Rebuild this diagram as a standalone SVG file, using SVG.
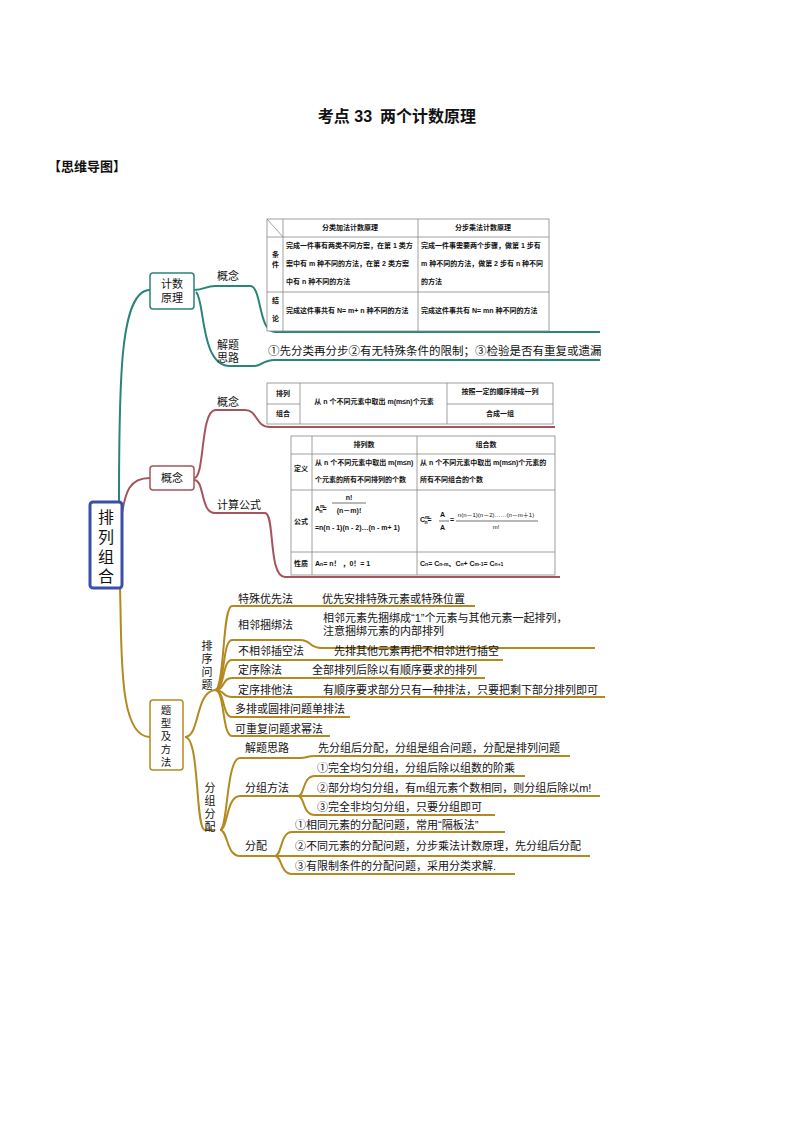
<svg xmlns="http://www.w3.org/2000/svg" width="794" height="1123" viewBox="0 0 794 1123">
<style>
text{font-family:"Liberation Sans","Noto Sans CJK SC",sans-serif;fill:#111}
.t{font-size:11px}
.s{font-size:7px;font-weight:bold}
.tb{fill:#fff;stroke:#888;stroke-width:0.8}
.g{stroke:#888;stroke-width:0.8;fill:none}
.teal{stroke:#2a8478;fill:none;stroke-width:2}
.red{stroke:#a5545b;fill:none;stroke-width:2}
.gold{stroke:#b38a1f;fill:none;stroke-width:2}
.m{text-anchor:middle}
</style>
<rect width="794" height="1123" fill="#fff"/>
<text x="397" y="122" class="m" style="font-size:16px;font-weight:bold">考点 33<tspan dx="8">两个计数原理</tspan></text>
<text x="48" y="171" style="font-size:13px;font-weight:bold">【思维导图】</text>

<g id="connectors">
<path class="teal" d="M119 502 C119 380 120 290 150 290"/>
<path class="teal" d="M194 290 C205 290 205 286 215 286 L250 286 C262 286 258 332 275 332 L600 332"/>
<path class="teal" d="M196 292 C205 300 200 366 230 366 L255 366 C262 366 262 360 275 360 L600 360"/>
<path class="red" d="M121 520 C125 490 130 478 150 478"/>
<path class="red" d="M194 478 C205 478 200 412 215 410 L245 410 C258 410 255 427 270 427 L555 427"/>
<path class="red" d="M194 480 C205 480 200 513 215 513 L265 513 C275 513 268 577 285 577 L560 577"/>
<path class="gold" d="M120 588 C122 650 118 737 150 737"/>
<path class="gold" d="M185 737 C200 737 195 692 215 690"/>
<path class="gold" d="M185 737 C200 737 195 830 205 830 L215 830"/>
<path class="gold" d="M215 690 C225 690 222 606 232 606 L475 606"/>
<path class="gold" d="M215 690 C225 690 222 640 232 640 L300 640 C312 640 308 648 322 648 L595 648"/>
<path class="gold" d="M215 690 C225 690 222 660 232 660 L503 660"/>
<path class="gold" d="M215 690 C225 690 222 678 232 678 L485 678"/>
<path class="gold" d="M215 690 C225 690 222 697 232 697 L605 697"/>
<path class="gold" d="M215 690 C225 690 222 717 232 717 L350 717"/>
<path class="gold" d="M215 690 C225 690 222 736 232 736 L330 736"/>
<path class="gold" d="M220 830 C228 830 226 758 240 758 L300 758 C308 758 306 756 315 756 L570 756"/>
<path class="gold" d="M220 830 C228 830 226 796 240 796 L300 796"/>
<path class="gold" d="M220 830 C228 830 226 856 240 856 L275 856"/>
<path class="gold" d="M298 796 C305 796 302 776 315 776 L525 776"/>
<path class="gold" d="M298 796 L600 796"/>
<path class="gold" d="M298 796 C305 796 302 815 315 815 L495 815"/>
<path class="gold" d="M275 856 C282 856 280 832 292 832 L505 832"/>
<path class="gold" d="M275 856 L590 856"/>
<path class="gold" d="M275 856 C282 856 280 874 292 874 L515 874"/>
</g>

<g id="root">
<rect x="90" y="502" width="32" height="86" rx="3" fill="#fff" stroke="#3a4fa8" stroke-width="3"/>
<text x="106" y="523" class="m" style="font-size:16px">排</text>
<text x="106" y="543" class="m" style="font-size:16px">列</text>
<text x="106" y="563" class="m" style="font-size:16px">组</text>
<text x="106" y="582" class="m" style="font-size:16px">合</text>
</g>

<g id="jishuyuanli">
<rect x="150" y="273" width="44" height="36" rx="3" fill="#fff" stroke="#2a8478" stroke-width="1.5"/>
<text x="172" y="288" class="m t">计数</text>
<text x="172" y="302" class="m t">原理</text>
</g>
<g id="gainian1"><text x="217" y="280" class="t">概念</text></g>
<g id="jieti1"><text x="217" y="349" class="t">解题</text><text x="217" y="362" class="t">思路</text>
<text x="268" y="355" style="font-size:11.5px">①先分类再分步②有无特殊条件的限制；③检验是否有重复或遗漏</text></g>
<g id="table1">
<rect x="267" y="219" width="282" height="112" class="tb"/>
<path class="g" d="M283 219V331M418 219V331M267 237H549M267 292H549M267 219L283 237"/>
<text x="350" y="230" class="s m">分类加法计数原理</text>
<text x="483" y="230" class="s m">分步乘法计数原理</text>
<text x="272" y="257" class="s">条</text><text x="272" y="267" class="s">件</text>
<text x="272" y="303" class="s">结</text><text x="272" y="321" class="s">论</text>
<text x="286" y="248" class="s">完成一件事有两类不同方案，在第 1 类方</text>
<text x="286" y="266" class="s">案中有 m 种不同的方法，在第 2 类方案</text>
<text x="286" y="284" class="s">中有 n 种不同的方法</text>
<text x="421" y="248" class="s">完成一件事需要两个步骤，做第 1 步有</text>
<text x="421" y="266" class="s">m 种不同的方法，做第 2 步有 n 种不同</text>
<text x="421" y="284" class="s">的方法</text>
<text x="286" y="313" class="s">完成这件事共有 N= m+ n 种不同的方法</text>
<text x="421" y="313" class="s">完成这件事共有 N= mn 种不同的方法</text>
</g>

<g id="gainian">
<rect x="150" y="466" width="44" height="24" rx="3" fill="#fff" stroke="#a5545b" stroke-width="1.5"/>
<text x="172" y="482" class="m t">概念</text>
</g>
<g id="gainian2"><text x="217" y="406" class="t">概念</text></g>
<g id="table2">
<rect x="267" y="383" width="286" height="41" class="tb"/>
<path class="g" d="M300 383V424M447 383V424M267 404H300M447 404H553"/>
<text x="283" y="396" class="s m">排列</text>
<text x="283" y="416" class="s m">组合</text>
<text x="374" y="404" class="s m">从 n 个不同元素中取出 m(m≤n)个元素</text>
<text x="500" y="394" class="s m">按照一定的顺序排成一列</text>
<text x="500" y="416" class="s m">合成一组</text>
</g>
<g id="jisuan"><text x="217" y="509" class="t">计算公式</text></g>
<g id="table3">
<rect x="291" y="436" width="264" height="139" class="tb"/>
<path class="g" d="M312 436V575M417 436V575M291 454H555M291 490H555M291 552H555"/>
<text x="364" y="447" class="s m">排列数</text>
<text x="486" y="447" class="s m">组合数</text>
<text x="301" y="471" class="s m">定义</text>
<text x="301" y="524" class="s m">公式</text>
<text x="301" y="566" class="s m">性质</text>
<text x="315" y="465" class="s">从 n 个不同元素中取出 m(m≤n)</text>
<text x="315" y="482" class="s">个元素的所有不同排列的个数</text>
<text x="420" y="465" class="s">从 n 个不同元素中取出 m(m≤n)个元素的</text>
<text x="420" y="482" class="s">所有不同组合的个数</text>
<text x="315" y="511" class="s">A<tspan style="font-size:5px" dy="-3">m</tspan><tspan style="font-size:5px" dy="5" dx="-5">n</tspan><tspan dy="-2">=</tspan></text>
<text x="349" y="500" class="s m">n!</text>
<line x1="332" y1="503" x2="366" y2="503" stroke="#111" stroke-width="0.6"/>
<text x="349" y="513" class="s m">(n－m)!</text>
<text x="315" y="530" class="s">=n(n - 1)(n - 2)…(n - m+ 1)</text>
<text x="420" y="522" class="s">C<tspan style="font-size:5px" dy="-3">m</tspan><tspan style="font-size:5px" dy="5" dx="-5">n</tspan><tspan dy="-2">=</tspan></text>
<text x="440" y="517" class="s">A</text><text x="440" y="530" class="s">A</text>
<line x1="439" y1="521" x2="449" y2="521" stroke="#111" stroke-width="0.6"/>
<text x="450" y="522" class="s">=</text>
<text x="496" y="517" class="s m" style="font-weight:normal;font-size:6px">n(n－1)(n－2)……(n－m＋1)</text>
<line x1="456" y1="521" x2="538" y2="521" stroke="#111" stroke-width="0.6"/>
<text x="496" y="529" class="s m" style="font-weight:normal;font-size:6px">m!</text>
<text x="315" y="566" class="s">A<tspan style="font-size:5px">n</tspan>= n！  ，0！= 1</text>
<text x="420" y="566" class="s">C<tspan style="font-size:5px">n</tspan>= C<tspan style="font-size:5px">n-m</tspan>、C<tspan style="font-size:5px">n</tspan>+ C<tspan style="font-size:5px">m-1</tspan>= C<tspan style="font-size:5px">n+1</tspan></text>
</g>

<g id="tixing">
<rect x="150" y="700" width="33" height="70" rx="3" fill="#fff" stroke="#b38a1f" stroke-width="1.5"/>
<text x="166" y="714" class="m" style="font-size:10.5px">题</text><text x="166" y="727" class="m" style="font-size:10.5px">型</text>
<text x="166" y="740" class="m" style="font-size:10.5px">及</text><text x="166" y="753" class="m" style="font-size:10.5px">方</text><text x="166" y="766" class="m" style="font-size:10.5px">法</text>
</g>
<g id="paixu">
<text x="207" y="650" class="m t">排</text><text x="207" y="663" class="m t">序</text>
<text x="207" y="676" class="m t">问</text><text x="207" y="689" class="m t">题</text>
</g>
<g id="leaves1">
<text x="238" y="603" class="t">特殊优先法</text><text x="322" y="603" class="t">优先安排特殊元素或特殊位置</text>
<text x="238" y="629" class="t">相邻捆绑法</text><text x="323" y="622" class="t">相邻元素先捆绑成“1”个元素与其他元素一起排列，</text><text x="323" y="635" class="t">注意捆绑元素的内部排列</text>
<text x="238" y="655" class="t">不相邻插空法</text><text x="334" y="655" class="t">先排其他元素再把不相邻进行插空</text>
<text x="238" y="674" class="t">定序除法</text><text x="312" y="674" class="t">全部排列后除以有顺序要求的排列</text>
<text x="238" y="694" class="t">定序排他法</text><text x="323" y="694" class="t">有顺序要求部分只有一种排法，只要把剩下部分排列即可</text>
<text x="235" y="713" class="t">多排或圆排问题单排法</text>
<text x="235" y="733" class="t">可重复问题求幂法</text>
</g>
<g id="fenzu">
<text x="210" y="792" class="m t">分</text><text x="210" y="805" class="m t">组</text>
<text x="210" y="818" class="m t">分</text><text x="210" y="831" class="m t">配</text>
</g>
<g id="leaves2">
<text x="245" y="752" class="t">解题思路</text><text x="318" y="752" class="t">先分组后分配，分组是组合问题，分配是排列问题</text>
<text x="245" y="792" class="t">分组方法</text>
<text x="317" y="772" class="t">①完全均匀分组，分组后除以组数的阶乘</text>
<text x="317" y="792" class="t">②部分均匀分组，有m组元素个数相同，则分组后除以m!</text>
<text x="317" y="811" class="t">③完全非均匀分组，只要分组即可</text>
<text x="245" y="850" class="t">分配</text>
<text x="295" y="829" class="t">①相同元素的分配问题，常用“隔板法”</text>
<text x="295" y="850" class="t">②不同元素的分配问题，分步乘法计数原理，先分组后分配</text>
<text x="295" y="870" class="t">③有限制条件的分配问题，采用分类求解.</text>
</g>
</svg>
